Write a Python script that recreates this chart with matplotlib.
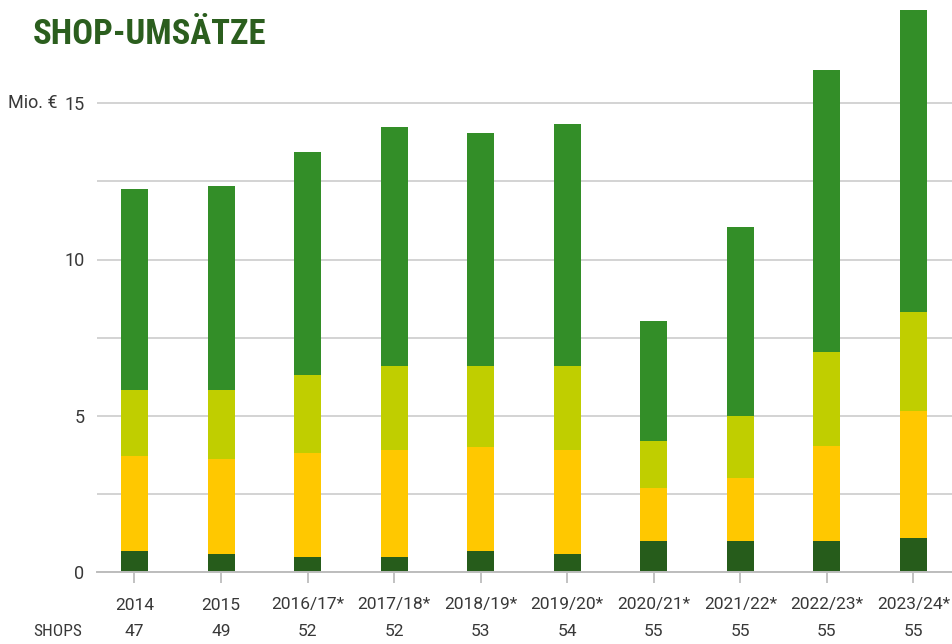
import matplotlib
matplotlib.use("Agg")
import matplotlib.pyplot as plt
import matplotlib.transforms as mtransforms
import numpy as np

categories = ["2014", "2015", "2016/17*", "2017/18*", "2018/19*", "2019/20*",
              "2020/21*", "2021/22*", "2022/23*", "2023/24*"]
shops = [47, 49, 52, 52, 53, 54, 55, 55, 55, 55]
seg_dark = [0.67, 0.58, 0.48, 0.48, 0.67, 0.58, 0.99, 0.99, 0.99, 1.09]
seg_yellow = [3.04, 3.04, 3.33, 3.42, 3.33, 3.32, 1.70, 2.02, 3.04, 4.06]
seg_lime = [2.11, 2.20, 2.49, 2.69, 2.59, 2.69, 1.50, 1.98, 3.01, 3.17]
seg_green = [6.44, 6.53, 7.14, 7.65, 7.46, 7.75, 3.84, 6.05, 9.02, 9.66]
y_ticks = [0, 5, 10, 15]

colors = ["#265c1b", "#ffc800", "#c0ce00", "#338e28"]
text_color = "#383838"
W, H = 952, 644
FONT = ["Roboto", "DejaVu Sans"]
COND = ["Roboto Condensed", "Open Sans Condensed", "DejaVu Sans Condensed",
        "Liberation Sans Narrow", "DejaVu Sans"]

fig = plt.figure(figsize=(W / 100, H / 100), dpi=100)
ax = fig.add_axes([97 / W, (H - 572) / H, 1 - 97 / W, 572 / H])
ax.set_zorder(1)

x = np.arange(len(categories))
bottom = np.zeros(len(categories))
for seg, c in zip([seg_dark, seg_yellow, seg_lime, seg_green], colors):
    ax.bar(x, seg, width=0.312, bottom=bottom, color=c, zorder=3, linewidth=0)
    bottom += np.array(seg)

ax.set_xlim(-0.433, 9.445)
ax.set_ylim(0, 572 / 31.25)
ax.set_yticks(y_ticks)
ax.set_yticks([2.5, 7.5, 12.5], minor=True)
ax.grid(axis="y", which="both", color="#c8c8c8", linewidth=1.1, zorder=0)
ax.tick_params(axis="y", which="both", length=0, labelsize=13,
               labelcolor=text_color, pad=9)
for lab in ax.get_yticklabels():
    lab.set_fontfamily(FONT)
for s in ["top", "right", "left"]:
    ax.spines[s].set_visible(False)
ax.spines["bottom"].set_color("#bdbdbd")
ax.spines["bottom"].set_linewidth(1.4)
ax.spines["bottom"].set_zorder(4)
ax.set_xticks(x)
ax.set_xticklabels([])
ax.tick_params(axis="x", length=8, width=1.3, color="#bdbdbd")

trans = mtransforms.blended_transform_factory(ax.transData, fig.transFigure)
for xi, cat, n in zip(x, categories, shops):
    ax.text(xi, 1 - 605 / H, cat, transform=trans, ha="center", va="center",
            fontsize=12.5, color=text_color, family=FONT, clip_on=False)
    ax.text(xi, 1 - 632 / H, str(n), transform=trans, ha="center", va="center",
            fontsize=12.5, color=text_color, family=FONT, clip_on=False)

fig.text(33 / W, 1 - 632 / H, "SHOPS", ha="left", va="center", fontsize=12.5,
         color=text_color, family=COND, fontstretch="condensed")
fig.text(8 / W, 1 - 103 / H, "Mio. €", ha="left", va="center", fontsize=13,
         color=text_color, family=FONT)
fig.text(33 / W, 1 - 35 / H, "SHOP-UMSÄTZE", ha="left", va="center",
         fontsize=25, color="#2b5e1e", fontweight="bold", fontstretch="condensed",
         family=COND)

fig.savefig("out.png", dpi=100)
